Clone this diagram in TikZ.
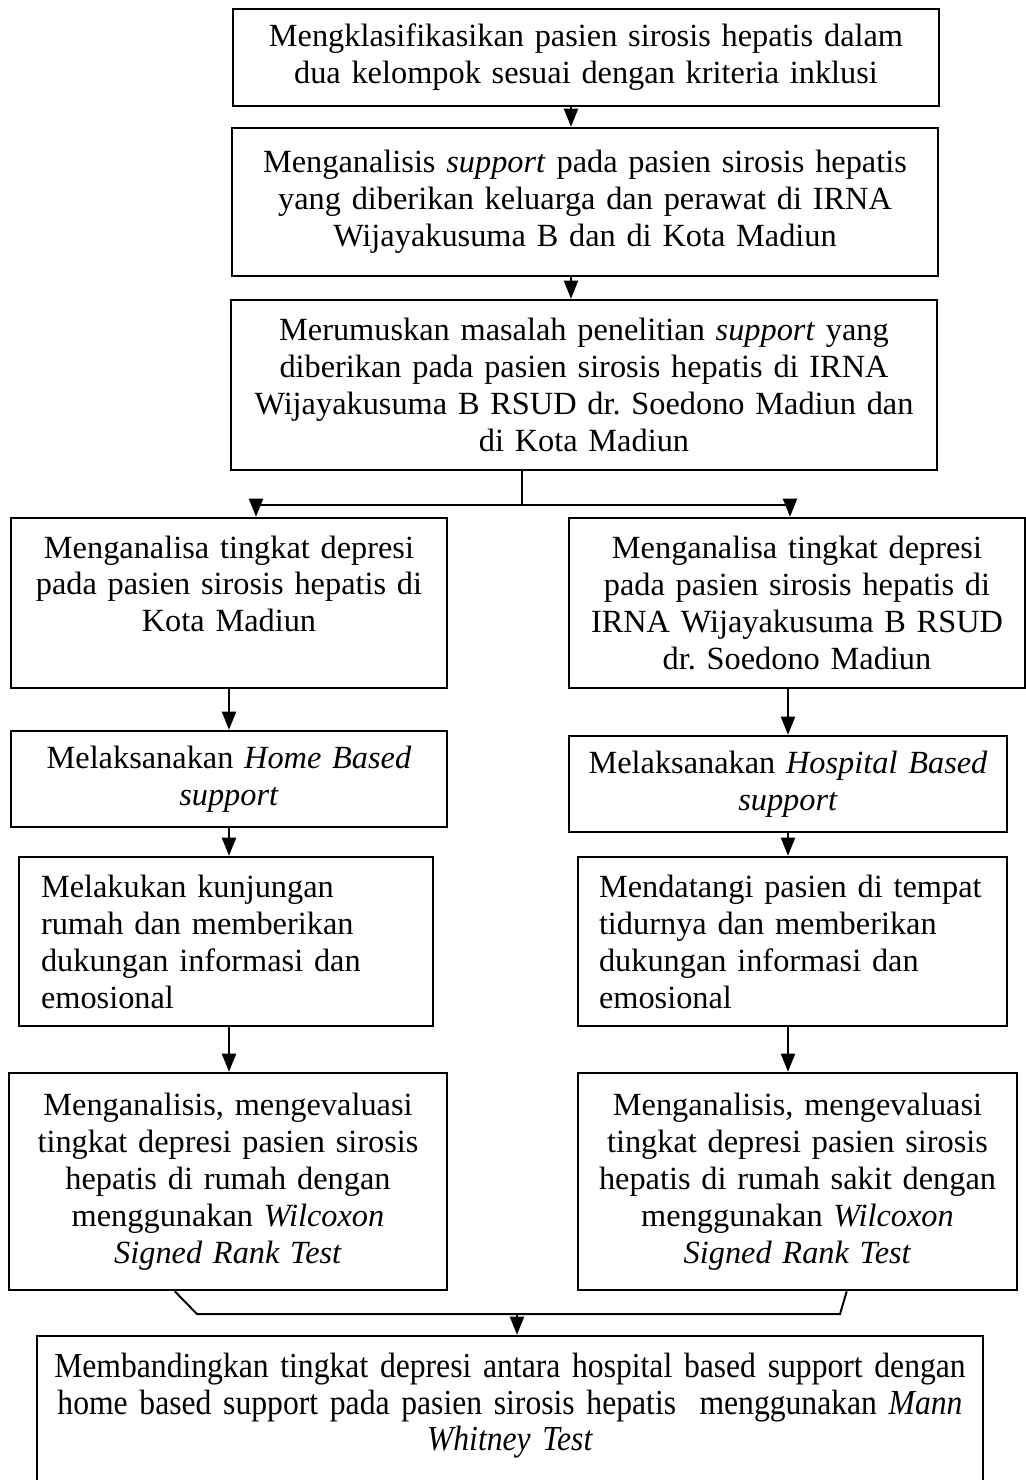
\documentclass[tikz,border=0pt]{standalone}
\usepackage{fontspec}
\setmainfont{Liberation Serif}
\newfontfamily\narrowserif[FakeStretch=0.9]{Liberation Serif}
\usetikzlibrary{arrows.meta,calc}
\newdimen\pxu \pxu=0.025cm
\frenchspacing

\tikzset{
    stepbox/.style={draw, line width=1.8pt, rectangle, align=center, inner xsep=0pt, font=\fontsize{23}{26.3}\selectfont},
    flow/.style={line width=1.4pt, -{Triangle[length=0.45cm, width=0.35cm]}},
    plain/.style={line width=1.4pt}
}

\begin{document}
\begin{tikzpicture}[x=0.025cm, y=-0.025cm]

% Background
\useasboundingbox (0,0) rectangle (1026,1480);
\fill[white] (0,0) rectangle (1026,1480);

% 1. Top chain
\node[stepbox, minimum width=706\pxu, minimum height=97\pxu, text width=690\pxu] (KLAS) at (586,57.5) {
    Mengklasifikasikan pasien sirosis hepatis dalam\\
    dua kelompok sesuai dengan kriteria inklusi
};

\node[stepbox, minimum width=706\pxu, minimum height=148\pxu, text width=690\pxu] (ANALISIS) at (585,202) {
    Menganalisis \textit{support} pada pasien sirosis hepatis\\
    yang diberikan keluarga dan perawat di IRNA\\
    Wijayakusuma B dan di Kota Madiun
};

\node[stepbox, minimum width=706\pxu, minimum height=170\pxu, text width=690\pxu] (RUMUS) at (584,385) {
    Merumuskan masalah penelitian \textit{support} yang\\
    diberikan pada pasien sirosis hepatis di IRNA\\
    Wijayakusuma B RSUD dr. Soedono Madiun dan\\
    di Kota Madiun
};

% 2. Left branch (home based)
\node[stepbox, minimum width=436\pxu, minimum height=170\pxu, text width=420\pxu, inner ysep=0pt, text height=40\pxu, text depth=130\pxu] (DEP_KOTA) at (229,603) {
    Menganalisa tingkat depresi\\
    pada pasien sirosis hepatis di\\
    Kota Madiun
};

\node[stepbox, minimum width=436\pxu, minimum height=96\pxu, text width=420\pxu] (HOME) at (229,779) {
    Melaksanakan \textit{Home Based}\\
    \textit{support}
};

\node[stepbox, minimum width=414\pxu, minimum height=169\pxu, text width=370\pxu, align=left] (KUNJ) at (226,941.5) {
    Melakukan kunjungan\\
    rumah dan memberikan\\
    dukungan informasi dan\\
    emosional
};

\node[stepbox, minimum width=438\pxu, minimum height=217\pxu, text width=424\pxu] (EVAL_RUMAH) at (228,1181.5) {
    Menganalisis, mengevaluasi\\
    tingkat depresi pasien sirosis\\
    hepatis di rumah dengan\\
    menggunakan \textit{Wilcoxon}\\
    \textit{Signed Rank Test}
};

% 3. Right branch (hospital based)
\node[stepbox, minimum width=456\pxu, minimum height=170\pxu, text width=440\pxu] (DEP_RS) at (797,603) {
    Menganalisa tingkat depresi\\
    pada pasien sirosis hepatis di\\
    IRNA Wijayakusuma B RSUD\\
    dr. Soedono Madiun
};

\node[stepbox, minimum width=438\pxu, minimum height=96\pxu, text width=424\pxu] (HOSP) at (788,784) {
    Melaksanakan \textit{Hospital Based}\\
    \textit{support}
};

\node[stepbox, minimum width=429\pxu, minimum height=169\pxu, text width=387\pxu, align=left] (DATANG) at (792.5,941.5) {
    Mendatangi pasien di tempat\\
    tidurnya dan memberikan\\
    dukungan informasi dan\\
    emosional
};

\node[stepbox, minimum width=439\pxu, minimum height=217\pxu, text width=425\pxu] (EVAL_RS) at (797.5,1181.5) {
    Menganalisis, mengevaluasi\\
    tingkat depresi pasien sirosis\\
    hepatis di rumah sakit dengan\\
    menggunakan \textit{Wilcoxon}\\
    \textit{Signed Rank Test}
};

% 4. Comparison (bottom, runs off the page)
\node[stepbox, font=\narrowserif\fontsize{25}{26.3}\selectfont, minimum width=946\pxu, minimum height=164\pxu, text width=930\pxu, inner ysep=0pt, text height=41\pxu, text depth=123\pxu] (BANDING) at (510,1418) {
    Membandingkan tingkat depresi antara hospital based support dengan\\
    home based support pada pasien sirosis hepatis~ menggunakan \textit{Mann}\\
    \textit{Whitney Test}
};

% Connectors
\coordinate (K1) at ($(KLAS.south)+(-15,0)$);
\draw[flow] (K1) -- (K1 |- ANALISIS.north);
\coordinate (A1) at ($(ANALISIS.south)+(-14,0)$);
\draw[flow] (A1) -- (A1 |- RUMUS.north);

% split into the two branches
\coordinate (SPLIT) at (522,505);
\draw[plain] (SPLIT |- RUMUS.south) -- (SPLIT);
\draw[flow] (SPLIT) -| ($(DEP_KOTA.north)+(27,0)$);
\draw[flow] (SPLIT) -| ($(DEP_RS.north)+(-7,0)$);

\draw[flow] (DEP_KOTA.south) -- (DEP_KOTA.south |- HOME.north);
\draw[flow] (HOME.south) -- (HOME.south |- KUNJ.north);
\draw[flow] (HOME.south |- KUNJ.south) -- (HOME.south |- EVAL_RUMAH.north);

\draw[flow] (DEP_RS.south -| HOSP.north) -- (HOSP.north);
\draw[flow] (HOSP.south) -- (HOSP.south |- DATANG.north);
\draw[flow] (HOSP.south |- DATANG.south) -- (HOSP.south |- EVAL_RS.north);

% join bracket
\coordinate (JOIN_L) at (197,1314);
\coordinate (JOIN_R) at (840,1314);
\coordinate (JOIN) at (517,1314);
\draw[plain] ($(EVAL_RUMAH.south west)+(167,0)$) -- (JOIN_L) -- (JOIN_R) -- ($(EVAL_RS.south west)+(270,0)$);
\draw[flow] (JOIN) -- (JOIN |- BANDING.north);

\end{tikzpicture}
\end{document}
